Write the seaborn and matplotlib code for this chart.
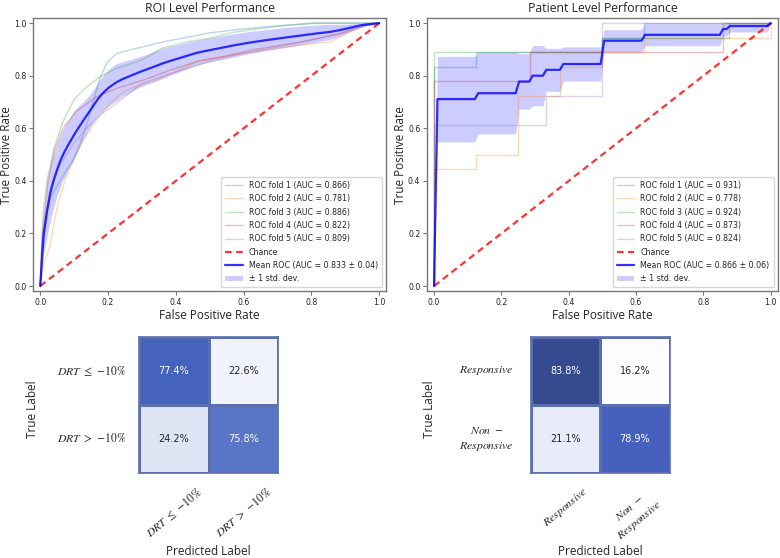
import numpy as np
import pandas as pd
import matplotlib
matplotlib.use("Agg")
import matplotlib.pyplot as plt
import seaborn as sns
from matplotlib.colors import LinearSegmentedColormap

sns.set_theme(style="white", color_codes=False)
plt.rcParams["font.family"] = ["DejaVu Sans"]
plt.rcParams["mathtext.fontset"] = "stix"

# ---------------- ROI level folds ----------------
roi_fpr_1 = [0, 0.005, 0.013, 0.028, 0.058, 0.097, 0.117, 0.141, 0.156, 0.176, 0.196, 0.225, 0.284, 0.363, 0.442, 0.5, 0.6, 0.7, 0.8, 1.0]
roi_tpr_1 = [0, 0.12, 0.2, 0.33, 0.40, 0.48, 0.54, 0.63, 0.70, 0.79, 0.847, 0.885, 0.904, 0.929, 0.948, 0.963, 0.978, 0.99, 1.0, 1.0]
roi_fpr_2 = [0, 0.01, 0.028, 0.045, 0.058, 0.077, 0.126, 0.166, 0.205, 0.245, 0.294, 0.343, 0.40, 0.461, 0.56, 0.658, 0.76, 0.855, 0.914, 0.96, 1.0]
roi_tpr_2 = [0, 0.08, 0.15, 0.27, 0.34, 0.416, 0.555, 0.631, 0.695, 0.739, 0.764, 0.783, 0.815, 0.853, 0.878, 0.897, 0.915, 0.929, 0.967, 0.99, 1.0]
roi_fpr_3 = [0, 0.005, 0.01, 0.02, 0.04, 0.065, 0.1, 0.13, 0.176, 0.225, 0.30, 0.36, 0.44, 0.5, 0.57, 0.65, 0.72, 0.82, 1.0]
roi_tpr_3 = [0, 0.2, 0.3, 0.40, 0.52, 0.62, 0.71, 0.75, 0.796, 0.828, 0.86, 0.905, 0.93, 0.942, 0.965, 0.98, 0.99, 1.0, 1.0]
roi_fpr_4 = [0, 0.005, 0.013, 0.023, 0.043, 0.067, 0.107, 0.166, 0.225, 0.304, 0.383, 0.47, 0.55, 0.62, 0.77, 0.885, 0.944, 1.0]
roi_tpr_4 = [0, 0.18, 0.28, 0.40, 0.52, 0.60, 0.665, 0.72, 0.752, 0.783, 0.821, 0.857, 0.875, 0.897, 0.929, 0.96, 0.99, 1.0]
roi_fpr_5 = [0, 0.005, 0.013, 0.028, 0.058, 0.097, 0.136, 0.176, 0.22, 0.3, 0.4, 0.5, 0.6, 0.7, 0.8, 0.9, 0.96, 1.0]
roi_tpr_5 = [0, 0.15, 0.22, 0.37, 0.46, 0.54, 0.60, 0.65, 0.69, 0.77, 0.815, 0.855, 0.885, 0.91, 0.935, 0.965, 0.99, 1.0]
roi_labels = ["ROC fold 1 (AUC = 0.866)", "ROC fold 2 (AUC = 0.781)", "ROC fold 3 (AUC = 0.886)",
              "ROC fold 4 (AUC = 0.822)", "ROC fold 5 (AUC = 0.809)"]
roi_mean_label = "Mean ROC (AUC = 0.833 ± 0.04)"

# ---------------- Patient level folds (step curves) ----------------
pat_fpr_1 = [0, 0, 0.125, 0.125, 0.5, 0.5, 0.625, 0.625, 1.0]
pat_tpr_1 = [0, 0.833, 0.833, 0.889, 0.889, 0.944, 0.944, 1.0, 1.0]
pat_fpr_2 = [0, 0, 0.125, 0.125, 0.25, 0.25, 0.375, 0.375, 0.5, 0.5, 0.625, 0.625, 1.0, 1.0]
pat_tpr_2 = [0, 0.444, 0.444, 0.5, 0.5, 0.722, 0.722, 0.833, 0.833, 0.889, 0.889, 0.944, 0.944, 1.0]
pat_fpr_3 = [0, 0, 0.5, 0.5, 0.875, 0.875, 1.0]
pat_tpr_3 = [0, 0.889, 0.889, 0.944, 0.944, 1.0, 1.0]
pat_fpr_4 = [0, 0, 0.2857, 0.2857, 0.8571, 0.8571, 1.0]
pat_tpr_4 = [0, 0.778, 0.778, 0.889, 0.889, 1.0, 1.0]
pat_fpr_5 = [0, 0, 0.3333, 0.3333, 0.5, 0.5, 1.0]
pat_tpr_5 = [0, 0.611, 0.611, 0.722, 0.722, 1.0, 1.0]
pat_labels = ["ROC fold 1 (AUC = 0.931)", "ROC fold 2 (AUC = 0.778)", "ROC fold 3 (AUC = 0.924)",
              "ROC fold 4 (AUC = 0.873)", "ROC fold 5 (AUC = 0.824)"]
pat_mean_label = "Mean ROC (AUC = 0.866 ± 0.06)"

# ---------------- Confusion matrices ----------------
roi_classes = [r"$DRT\ \leq\ {-10}\%$", r"$DRT\ >\ {-10}\%$"]
roi_cm = [[0.774, 0.226], [0.242, 0.758]]
pat_classes = [r"$Responsive$", "$Non\\ -$\n$Responsive$"]
pat_cm = [[0.838, 0.162], [0.211, 0.789]]

LABEL_FONT = "Open Sans"
BLUE = "#0000ff"
RED = "#ff0000"

fig = plt.figure(figsize=(7.8, 5.58), dpi=100)
ax1 = fig.add_axes([0.0429, 0.478, 0.452, 0.490])
ax2 = fig.add_axes([0.5478, 0.478, 0.449, 0.490])
cm1 = fig.add_axes([0.1786, 0.1529, 0.1782, 0.2437])
cm2 = fig.add_axes([0.6804, 0.1529, 0.1782, 0.2437])


def roc_panel(ax, folds, labels, mean_label, title):
    colors = sns.color_palette("tab10")[:5]
    mean_fpr = np.linspace(0, 1, 100)
    tprs = []
    for (f, t), lab, c in zip(folds, labels, colors):
        df = pd.DataFrame({"fpr": f, "tpr": t})
        sns.lineplot(data=df, x="fpr", y="tpr", ax=ax, sort=False, estimator=None,
                     color=c, lw=1, alpha=0.3, label=lab)
        it = np.interp(mean_fpr, f, t)
        it[0] = 0.0
        tprs.append(it)
    ax.plot([0, 1], [0, 1], ls="--", lw=1.6, color=RED, alpha=0.8, label="Chance",
            dashes=(3, 2))
    mean_tpr = np.mean(tprs, axis=0)
    mean_tpr[-1] = 1.0
    std = np.std(tprs, axis=0)
    sns.lineplot(x=mean_fpr, y=mean_tpr, ax=ax, color=BLUE, lw=1.6, alpha=0.8,
                 label=mean_label, estimator=None, sort=False)
    ax.fill_between(mean_fpr, np.maximum(mean_tpr - std, 0), np.minimum(mean_tpr + std, 1),
                    color=BLUE, alpha=0.2, lw=0, label="± 1 std. dev.")
    ax.set_xlim(-0.02, 1.02)
    ax.set_ylim(-0.02, 1.02)
    ax.set_xticks([0, 0.2, 0.4, 0.6, 0.8, 1.0])
    ax.set_yticks([0, 0.2, 0.4, 0.6, 0.8, 1.0])
    ax.tick_params(bottom=True, left=True, length=3, width=0.8, color="#777777",
                   labelsize=5.6, pad=2, labelcolor="#222222")
    for s in ax.spines.values():
        s.set_color("#777777")
        s.set_linewidth(1.0)
    ax.set_xlabel("False Positive Rate", fontsize=8.5, family=LABEL_FONT, labelpad=1)
    ax.set_ylabel("True Positive Rate", fontsize=8.5, family=LABEL_FONT, labelpad=1)
    ax.set_title(title, fontsize=8.8, family=LABEL_FONT, pad=4)
    leg = ax.legend(loc="lower right", fontsize=5.7, frameon=True, borderpad=0.5,
                    labelspacing=0.55, handlelength=2.2)
    leg.get_frame().set_edgecolor("#cccccc")


roc_panel(ax1, [(roi_fpr_1, roi_tpr_1), (roi_fpr_2, roi_tpr_2), (roi_fpr_3, roi_tpr_3),
                (roi_fpr_4, roi_tpr_4), (roi_fpr_5, roi_tpr_5)],
          roi_labels, roi_mean_label, "ROI Level Performance")
roc_panel(ax2, [(pat_fpr_1, pat_tpr_1), (pat_fpr_2, pat_tpr_2), (pat_fpr_3, pat_tpr_3),
                (pat_fpr_4, pat_tpr_4), (pat_fpr_5, pat_tpr_5)],
          pat_labels, pat_mean_label, "Patient Level Performance")


def cm_panel(ax, vals, classes, cmap_stops, vmin, vmax, ypad, ylab_x):
    cmap = LinearSegmentedColormap.from_list("c", cmap_stops)
    sns.heatmap(np.array(vals), ax=ax, cmap=cmap, vmin=vmin, vmax=vmax, annot=True, fmt=".1%",
                cbar=False, linewidths=1, linecolor="#5a6eb0",
                xticklabels=classes, yticklabels=classes, annot_kws={"size": 7})
    for s in ax.spines.values():
        s.set_visible(True)
        s.set_color("#5a6eb0")
        s.set_linewidth(1.2)
    ax.tick_params(axis="y", length=0, pad=ypad, labelsize=8.5, rotation=0)
    ax.tick_params(axis="x", length=0, pad=9, labelsize=8.5)
    for t in ax.get_yticklabels():
        t.set_multialignment("center")
    for t in ax.get_xticklabels():
        t.set_rotation(40)
        t.set_ha("center")
        t.set_multialignment("center")
    ax.set_xlabel("Predicted Label", fontsize=8.5, family=LABEL_FONT)
    ax.set_ylabel("True Label", fontsize=8.5, family=LABEL_FONT)
    ax.xaxis.set_label_coords(0.5, -0.53)
    ax.yaxis.set_label_coords(ylab_x, 0.47)


cm_panel(cm1, roi_cm, roi_classes,
         [(0.0, "#f0f3fb"), (0.03, "#dde3f3"), (0.97, "#5b78c8"), (1.0, "#4562bd")],
         0.226, 0.774, 9, -0.72)
cm_panel(cm2, pat_cm, pat_classes,
         [(0.0, "#fbfcfe"), (0.07, "#e8ecf8"), (0.93, "#4561bd"), (1.0, "#364b8f")],
         0.162, 0.838, 12, -0.68)

fig.savefig("out.png", dpi=100)
